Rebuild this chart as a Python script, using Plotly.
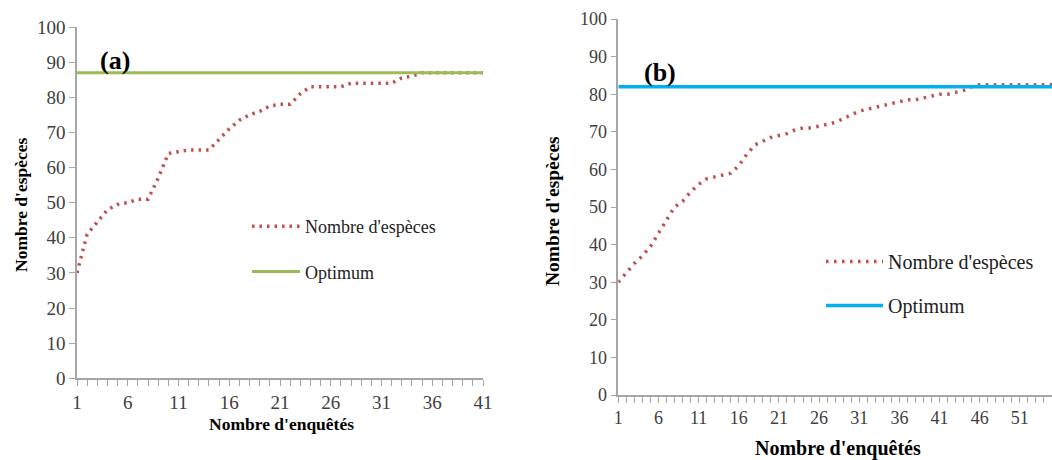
import plotly.graph_objects as go

# ---- data ----
enquetes_a = list(range(1, 42))
especes_a = [30, 41, 44.5, 48, 49.5, 50, 51, 51, 57, 64,
             64.5, 65, 65, 65, 68, 71, 73.5, 75, 76, 77.5,
             78, 78, 81, 83, 83, 83, 83, 84, 84, 84,
             84, 84, 85.5, 86, 87, 87, 87, 87, 87, 87, 87]
optimum_a = 87

enquetes_b = list(range(1, 56))
especes_b = [30, 32.5, 35, 37, 39.5, 43, 46.5, 50, 51.5, 54,
             56, 57.5, 58, 58.5, 59, 61, 64, 66.5, 67.5, 68.5,
             69, 69.5, 70.5, 71, 71, 71.5, 72, 72.5, 73.5, 74.5,
             75.5, 76, 76.5, 77, 77.5, 78, 78.5, 78.5, 79, 79.5,
             80, 80, 80.5, 81, 82, 82.5, 82.5, 82.5, 82.5, 82.5,
             82.5, 82.5, 82.5, 82.5, 82.5]
optimum_b = 82

label_curve = "Nombre d'espèces"
label_opt = "Optimum"
xtitle = "Nombre d'enquêtés"
ytitle = "Nombre d'espèces"

W, H = 1052, 460
FONT = "Liberation Serif"
RED = "#C0504D"
GREEN = "#9BBB59"
BLUE = "#00B0F0"
AXC = "#A6A6A6"

def px(x):
    return x / W

def py(y):
    return 1 - y / H

fig = go.Figure()

# panel (a)
fig.add_trace(go.Scatter(x=enquetes_a, y=especes_a, mode="lines", name=label_curve,
                         line=dict(color=RED, width=3.5, dash="2.5px,5px"),
                         xaxis="x", yaxis="y", legend="legend", legendgroup="a1"))
fig.add_trace(go.Scatter(x=[enquetes_a[0], enquetes_a[-1]], y=[optimum_a, optimum_a], mode="lines",
                         name=label_opt, line=dict(color=GREEN, width=3),
                         xaxis="x", yaxis="y", legend="legend", legendgroup="a2"))
# panel (b)
fig.add_trace(go.Scatter(x=enquetes_b, y=especes_b, mode="lines", name=label_curve,
                         line=dict(color=RED, width=3.5, dash="2.5px,5.5px"),
                         xaxis="x2", yaxis="y2", legend="legend2", legendgroup="b1"))
fig.add_trace(go.Scatter(x=[enquetes_b[0], enquetes_b[-1]], y=[optimum_b, optimum_b], mode="lines",
                         name=label_opt, line=dict(color=BLUE, width=3.5),
                         xaxis="x2", yaxis="y2", legend="legend2", legendgroup="b2"))

def xaxis(domain, rng, size):
    return dict(domain=domain, range=rng, tick0=1, dtick=5, showgrid=False, zeroline=False,
                showline=True, linecolor=AXC, linewidth=1.5, ticks="outside", ticklen=6,
                tickcolor=AXC, tickwidth=1.2, automargin=False,
                minor=dict(dtick=1, ticks="outside", ticklen=6, tickcolor=AXC, tickwidth=1.2),
                tickfont=dict(family=FONT, size=size, color="#404040"), fixedrange=True)

def yaxis(domain, size, anchor):
    return dict(domain=domain, range=[0, 100], dtick=10, showgrid=False, zeroline=False,
                showline=True, linecolor=AXC, linewidth=1.5, ticks="outside", ticklen=6,
                tickcolor=AXC, tickwidth=1.2, anchor=anchor, automargin=False,
                tickfont=dict(family=FONT, size=size, color="#404040"), fixedrange=True)

fig.update_layout(
    width=W, height=H, margin=dict(l=0, r=0, t=0, b=0, pad=0, autoexpand=False),
    font=dict(family=FONT, color="#222"),
    paper_bgcolor="white", plot_bgcolor="white",
    xaxis=dict(xaxis([px(77), px(483)], [1, 41], 19), anchor="y"),
    yaxis=yaxis([py(378.3), py(27)], 19, "x"),
    xaxis2=dict(xaxis([px(618.3), 1.0], [1, 55], 18), anchor="y2"),
    yaxis2=yaxis([py(395), py(19)], 18, "x2"),
    legend=dict(x=px(247), y=py(208), xanchor="left", yanchor="top", bgcolor="rgba(0,0,0,0)",
                font=dict(family=FONT, size=18, color="#222"), tracegroupgap=19, itemwidth=48),
    legend2=dict(x=px(821), y=py(242), xanchor="left", yanchor="top", bgcolor="rgba(0,0,0,0)",
                 font=dict(family=FONT, size=20, color="#222"), tracegroupgap=15, itemwidth=57),
    showlegend=True,
)

ann = [
    dict(text="<b>(a)</b>", x=px(115), y=py(60), font=dict(size=26)),
    dict(text="<b>(b)</b>", x=px(660), y=py(72), font=dict(size=26)),
    dict(text="<b>" + xtitle + "</b>", x=px(281), y=py(424), font=dict(size=17.5)),
    dict(text="<b>" + xtitle + "</b>", x=px(838), y=py(448), font=dict(size=20)),
    dict(text="<b>" + ytitle + "</b>", x=px(21), y=py(205), font=dict(size=17.5), textangle=-90),
    dict(text="<b>" + ytitle + "</b>", x=px(552), y=py(211), font=dict(size=19.5), textangle=-90),
]
for a in ann:
    a.update(xref="paper", yref="paper", showarrow=False, xanchor="center", yanchor="middle")
    a["font"].update(family=FONT, color="black")
fig.update_layout(annotations=ann)

fig.write_html("out.html", config={"displayModeBar": False},
               post_script="document.body.style.margin='0';document.body.style.overflow='hidden';")
